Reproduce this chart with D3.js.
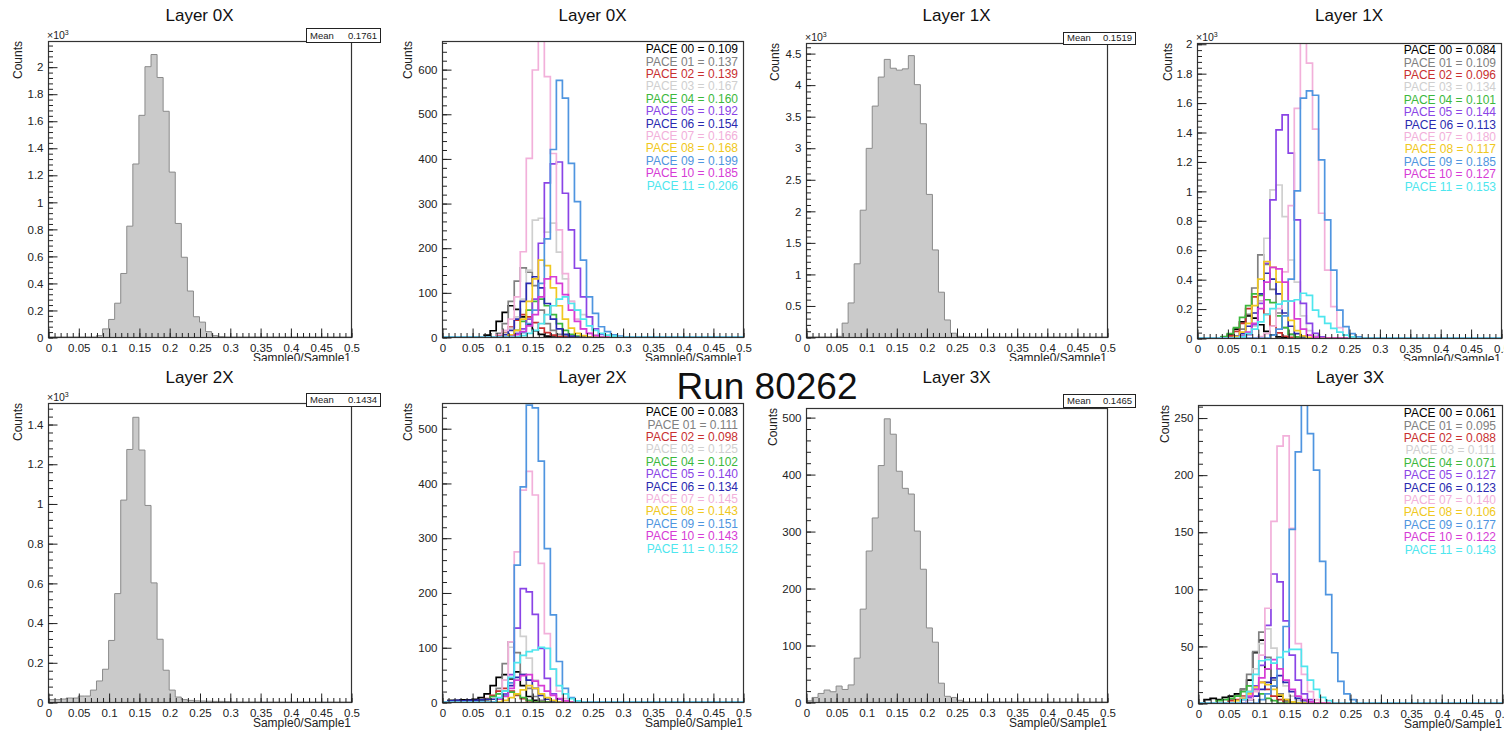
<!DOCTYPE html>
<html><head><meta charset="utf-8">
<script src="https://cdn.jsdelivr.net/npm/d3@7"></script>
<style>
body{margin:0;background:#fff}
svg{display:block}
text{font-family:"Liberation Sans",Arial,Helvetica,sans-serif}
</style>
</head><body>
<svg id="c" width="1504" height="731"></svg>
<script>
// ---------------- DATA ----------------
// Histograms: counts per bin of width 0.01 starting at 0 (bins not listed are empty)
const xTickValues = [0,0.05,0.1,0.15,0.2,0.25,0.3,0.35,0.4,0.45,0.5];
const xTickLabels = ["0","0.05","0.1","0.15","0.2","0.25","0.3","0.35","0.4","0.45","0.5"];

const paceNames = ["PACE 00","PACE 01","PACE 02","PACE 03","PACE 04","PACE 05","PACE 06","PACE 07","PACE 08","PACE 09","PACE 10","PACE 11"];
const paceColors = ["#000000","#808080","#c83030","#cfcfcf","#3cb83c","#8a44e6","#2a2ab0","#f2b0da","#f0c820","#4f95e0","#d63cd6","#4ee6ee"];

const layerTitles = ["Layer 0X","Layer 1X","Layer 2X","Layer 3X"];
const totalMeans = ["0.1761","0.1519","0.1434","0.1465"];

const layer0Total = [0,0,0,0,0,0,0,0,10,60,130,250,470,820,1280,1640,2000,2090,1920,1670,1220,840,590,340,150,110,40,10,3];
const layer1Total = [0,0,0,0,0,10,220,540,1160,2010,2990,3660,4120,4400,4260,4230,4250,4460,4000,3380,2260,1380,710,270,60,10];
const layer2Total = [12,12,15,20,20,30,30,60,106,165,310,546,1017,1272,1434,1269,990,600,316,160,60,25,12,8,6,5,4,3,3,2];
const layer3Total = [2,8,15,21,18,28,22,30,77,163,265,323,415,497,470,405,375,365,300,233,130,105,33,10,8,3];

const layer0Means = ["0.109","0.137","0.139","0.167","0.160","0.192","0.154","0.166","0.168","0.199","0.185","0.206"];
const layer1Means = ["0.084","0.109","0.096","0.134","0.101","0.144","0.113","0.180","0.117","0.185","0.127","0.153"];
const layer2Means = ["0.083","0.111","0.098","0.125","0.102","0.140","0.134","0.145","0.143","0.151","0.143","0.152"];
const layer3Means = ["0.061","0.095","0.088","0.111","0.071","0.127","0.123","0.140","0.106","0.177","0.122","0.143"];

const layer0Paces = [
 [0,0,0,0,0,0,0,4,14,35,55,70,62,45,28,14,6,2],
 [0,0,0,0,0,0,0,0,0,8,30,80,125,155,145,115,60,30,15,6,2],
 [0,0,0,0,0,0,0,0,0,4,10,22,38,50,45,32,20,10,4,1],
 [0,0,0,0,0,0,0,0,0,0,8,20,45,85,150,262,266,235,255,190,130,80,60,50,45,5],
 [0,0,0,0,0,0,0,0,0,0,0,5,15,35,60,80,85,70,50,30,15,6,2],
 [0,0,0,0,0,0,0,0,0,0,0,3,8,18,40,85,210,345,388,392,322,240,154,90,45,18,6,2],
 [0,0,0,0,0,0,0,0,0,0,5,15,40,80,120,135,110,75,40,18,6,2],
 [0,0,0,0,0,0,0,0,0,5,15,40,90,191,400,598,700,583,411,240,142,80,40,18,8,3],
 [0,0,0,0,0,0,0,0,0,0,0,5,15,40,80,130,172,160,110,70,40,20,8,3],
 [0,0,0,0,0,0,0,0,0,0,0,0,0,10,30,60,120,220,420,575,535,389,303,172,90,53,23,12,5,2],
 [0,0,0,0,0,0,0,0,0,0,0,0,5,12,25,50,90,130,135,120,95,60,35,18,8,3],
 [0,0,0,0,0,0,0,0,0,0,0,0,0,3,8,15,30,50,70,85,90,75,60,40,25,15,8,4,2]
];
const layer1Paces = [
 [0,0,0,0,8,25,60,110,150,135,90,45,20,8,3],
 [0,0,0,0,0,3,15,60,160,340,565,500,330,170,70,25,8],
 [0,0,0,0,0,15,45,100,200,280,250,160,80,35,12,4],
 [0,0,0,0,0,0,0,0,20,80,250,678,1007,1040,825,530,380,150,50,15],
 [0,0,0,0,10,30,70,140,220,300,290,260,240,150,70,25,8],
 [0,0,0,0,0,0,0,8,25,90,236,508,939,1415,1517,1256,803,236,100,32,8],
 [0,0,0,0,0,0,10,30,80,170,300,440,400,300,170,80,30,10],
 [0,0,0,0,0,0,0,0,0,0,10,30,80,200,450,900,1560,2100,1868,1420,848,462,213,70,20,5],
 [0,0,0,0,0,0,10,40,100,220,400,520,480,380,250,120,50,15,5],
 [0,0,0,0,0,0,0,0,0,0,0,0,20,60,150,400,1000,1630,1680,1650,1210,803,462,190,77,30,8],
 [0,0,0,0,0,0,0,15,40,100,200,380,480,470,380,250,130,60,20,6],
 [0,0,0,0,0,0,0,10,30,60,110,160,200,230,250,250,260,304,290,190,145,100,66,40,20,8]
];
const layer2Paces = [
 [0,3,3,4,4,5,8,15,30,45,50,42,55,30,10,3],
 [0,0,0,0,0,0,0,3,10,25,70,110,90,50,25,10,3],
 [0,0,0,0,0,0,3,6,12,20,25,20,12,6,2],
 [0,0,0,0,0,0,0,0,5,15,40,100,135,120,80,40,15,5],
 [0,0,0,0,0,0,2,5,10,15,20,18,14,8,3],
 [0,0,0,0,0,0,0,0,0,5,15,50,135,207,201,160,98,43,15,5],
 [0,2,3,2,3,3,4,5,5,5,12,30,45,50,40,25,12,5],
 [0,0,0,0,0,0,0,0,0,5,40,110,274,387,421,378,253,125,60,20,6],
 [0,0,0,0,0,0,0,0,0,0,3,8,15,22,30,25,15,8,3],
 [0,0,0,0,0,0,0,0,0,5,12,35,250,393,542,537,440,280,159,74,25,8,2],
 [0,0,0,0,0,0,0,0,0,5,10,25,40,48,50,38,30,20,12,6,2],
 [0,0,0,0,0,0,0,0,0,8,20,45,72,85,92,95,100,98,60,30,15,6,2]
];
const layer3Paces = [
 [0,3,4,3,5,6,8,12,20,44,55,30,15,6,2],
 [0,0,0,0,0,3,6,12,25,45,62,40,20,8,3],
 [0,0,0,0,0,2,3,6,10,15,18,12,6,3],
 [0,0,0,0,0,0,0,5,15,30,52,65,48,30,15,6,2],
 [0,0,0,2,3,4,6,10,15,12,8,4,2],
 [0,0,0,0,0,0,0,0,5,15,33,68,113,106,72,42,20,8,3],
 [0,0,0,0,0,0,0,0,3,6,12,18,22,24,18,10,4,2],
 [0,0,0,0,0,0,0,0,3,10,42,83,159,225,234,153,52,25,10,3],
 [0,0,0,0,0,0,2,4,8,14,18,16,12,7,3,1],
 [0,0,0,0,0,0,0,0,0,0,3,8,15,30,67,152,220,262,236,204,124,95,44,19,8,3],
 [0,0,0,0,0,0,0,3,6,12,22,30,38,30,20,12,6,3,1],
 [0,0,0,0,0,0,0,3,10,25,37,38,35,40,45,47,47,32,20,12,5,2]
];

// y-axis tick labels
const yTicksK2 = [0,200,400,600,800,1000,1200,1400,1600,1800,2000];
const yLabelsK2 = ["0","0.2","0.4","0.6","0.8","1","1.2","1.4","1.6","1.8","2"];
const yTicksK45 = [0,500,1000,1500,2000,2500,3000,3500,4000,4500];
const yLabelsK45 = ["0","0.5","1","1.5","2","2.5","3","3.5","4","4.5"];
const yTicksK14 = [0,200,400,600,800,1000,1200,1400];
const yLabelsK14 = ["0","0.2","0.4","0.6","0.8","1","1.2","1.4"];
const yTics600 = [0,100,200,300,400,500,600];
const yLabels600 = ["0","100","200","300","400","500","600"];
const yTics500 = [0,100,200,300,400,500];
const yLabels500 = ["0","100","200","300","400","500"];
const yTics250 = [0,50,100,150,200,250];
const yLabels250 = ["0","50","100","150","200","250"];

// ---------------- LAYOUT ----------------
const panels = [
 {layer:0, kind:"total", data:layer0Total, ymax:2190, yt:yTicksK2, yl:yLabelsK2, minor:40, exp:true,
  f:{x0:48,x1:351,y0:41,y1:337}, countsX:18, box:{x0:306,x1:380,y0:28,y1:42}},
 {layer:0, kind:"pace", series:layer0Paces, means:layer0Means, ymax:663, yt:yTics600, yl:yLabels600, minor:20,
  f:{x0:442,x1:743,y0:41,y1:337}, countsX:408, leg:{x:738,y:49}},
 {layer:1, kind:"total", data:layer1Total, ymax:4660, yt:yTicksK45, yl:yLabelsK45, minor:100, exp:true,
  f:{x0:806,x1:1107,y0:43,y1:337}, countsX:775, box:{x0:1063,x1:1135,y0:32,y1:44}},
 {layer:1, kind:"pace", series:layer1Paces, means:layer1Means, ymax:2005, yt:yTicksK2, yl:yLabelsK2, minor:40, exp:true,
  f:{x0:1197,x1:1501,y0:43,y1:338}, countsX:1168, leg:{x:1496,y:50}},
 {layer:2, kind:"total", data:layer2Total, ymax:1506, yt:yTicksK14, yl:yLabelsK14, minor:40, exp:true,
  f:{x0:48,x1:351,y0:403,y1:702}, countsX:18, box:{x0:306,x1:380,y0:393,y1:406}},
 {layer:2, kind:"pace", series:layer2Paces, means:layer2Means, ymax:546, yt:yTics500, yl:yLabels500, minor:20,
  f:{x0:442,x1:743,y0:403,y1:702}, countsX:408, leg:{x:738,y:412}},
 {layer:3, kind:"total", data:layer3Total, ymax:516, yt:yTics500, yl:yLabels500, minor:20,
  f:{x0:806,x1:1107,y0:408,y1:702}, countsX:773, box:{x0:1063,x1:1135,y0:394,y1:407}},
 {layer:3, kind:"pace", series:layer3Paces, means:layer3Means, ymax:261, yt:yTics250, yl:yLabels250, minor:10,
  f:{x0:1198,x1:1502,y0:405,y1:703}, countsX:1165, leg:{x:1496,y:413}}
];

const FONT = '"Liberation Sans",Arial,Helvetica,sans-serif';
const svg = d3.select("#c");
svg.append("rect").attr("width",1504).attr("height",731).attr("fill","#fff");
const defs = svg.append("defs");
defs.append("clipPath").attr("id","row1clip").append("rect").attr("x",0).attr("y",0).attr("width",1504).attr("height",361);

function binPoints(counts){
  const pts = [[0,0]];
  for (let i=0;i<50;i++) pts.push([i/100, counts[i]||0]);
  pts.push([0.5, counts[49]||0]);
  pts.push([0.5, 0]);
  return pts;
}

panels.forEach((p,pi)=>{
  const f = p.f;
  const x = d3.scaleLinear().domain([0,0.5]).range([f.x0,f.x1]);
  const y = d3.scaleLinear().domain([0,p.ymax]).range([f.y1,f.y0]);
  const g = svg.append("g");
  const cid = "clip"+pi;
  defs.append("clipPath").attr("id",cid).append("rect")
    .attr("x",f.x0).attr("y",f.y0).attr("width",f.x1-f.x0).attr("height",f.y1-f.y0);
  const line = d3.line().x(d=>x(d[0])).y(d=>y(d[1])).curve(d3.curveStepAfter);
  const hg = g.append("g").attr("clip-path",`url(#${cid})`);
  if (p.kind==="total"){
    hg.append("path").attr("d", line(binPoints(p.data)))
      .attr("fill","#cacaca").attr("stroke","#8a8a8a").attr("stroke-width",1);
  } else {
    p.series.forEach((s,si)=>{
      hg.append("path").attr("d", line(binPoints(s)))
        .attr("fill","none").attr("stroke",paceColors[si]).attr("stroke-width",1.7)
        .attr("stroke-linejoin","miter");
    });
  }
  // frame
  g.append("rect").attr("x",f.x0+0.5).attr("y",f.y0+0.5)
    .attr("width",f.x1-f.x0).attr("height",f.y1-f.y0)
    .attr("fill","none").attr("stroke","#333").attr("stroke-width",1.2);
  // x axis
  const xa = g.append("g").attr("transform",`translate(0.5,${f.y1+0.5})`)
    .call(d3.axisBottom(x).tickValues(xTickValues).tickFormat((d,i)=>xTickLabels[i]).tickSize(-9).tickSizeOuter(0).tickPadding(6));
  xa.select(".domain").remove();
  xa.attr("font-size",11.5).attr("font-family",FONT);
  xa.selectAll("line").attr("stroke","#222");
  xa.selectAll("text").attr("fill","#222");
  const xm = g.append("g").attr("transform",`translate(0.5,${f.y1+0.5})`)
    .call(d3.axisBottom(x).tickValues(d3.range(0,51).map(i=>i/100)).tickFormat("").tickSize(-4.5).tickSizeOuter(0));
  xm.select(".domain").remove();
  xm.selectAll("line").attr("stroke","#222");
  // y axis
  const ya = g.append("g").attr("transform",`translate(${f.x0+0.5},0.5)`)
    .call(d3.axisLeft(y).tickValues(p.yt).tickFormat((d,i)=>p.yl[i]).tickSize(-9).tickSizeOuter(0).tickPadding(5));
  ya.select(".domain").remove();
  ya.attr("font-size",11.5).attr("font-family",FONT);
  ya.selectAll("line").attr("stroke","#222");
  ya.selectAll("text").attr("fill","#222");
  const minors = d3.range(0, Math.floor(p.ymax/p.minor)+1).map(i=>i*p.minor);
  const ym = g.append("g").attr("transform",`translate(${f.x0+0.5},0.5)`)
    .call(d3.axisLeft(y).tickValues(minors).tickFormat("").tickSize(-4.5).tickSizeOuter(0));
  ym.select(".domain").remove();
  ym.selectAll("line").attr("stroke","#222");
  // exponent label
  if (p.exp){
    const t = g.append("text").attr("x",f.x0-1).attr("y",f.y0-2).attr("font-size",10.5).attr("fill","#222");
    t.append("tspan").text("×10");
    t.append("tspan").attr("dy",-4).attr("font-size",7).text("3");
  }
  // title
  g.append("text").attr("x",(f.x0+f.x1)/2).attr("y", f.y1>400 ? 383 : 21)
    .attr("text-anchor","middle").attr("font-size",17).attr("fill","#111").text(layerTitles[p.layer]);
  // axis titles
  g.append("text").attr("transform",`translate(${p.countsX+4},${f.y0}) rotate(-90)`)
    .attr("text-anchor","end").attr("font-size",12).attr("fill","#222").text("Counts");
  const xt = g.append("text").attr("x",f.x1).attr("y",f.y1+25)
    .attr("text-anchor","end").attr("font-size",12).attr("fill","#222").text("Sample0/Sample1");
  if (f.y1<400) xt.attr("clip-path","url(#row1clip)");
  // stats box
  if (p.box){
    const b = p.box;
    g.append("rect").attr("x",b.x0+0.5).attr("y",b.y0+0.5).attr("width",b.x1-b.x0).attr("height",b.y1-b.y0)
      .attr("fill","#fff").attr("stroke","#222").attr("stroke-width",1);
    g.append("text").attr("x",b.x0+4).attr("y",b.y1-3.5).attr("font-size",9.5).attr("fill","#222").text("Mean");
    g.append("text").attr("x",b.x1-3).attr("y",b.y1-3.5).attr("text-anchor","end").attr("font-size",9.5).attr("fill","#222").text(totalMeans[p.layer]);
  }
  // legend
  if (p.leg){
    paceNames.forEach((n,i)=>{
      g.append("text").attr("x",p.leg.x).attr("y",p.leg.y + i*12.4).attr("dy","0.35em")
        .attr("text-anchor","end").attr("font-size",12).attr("fill",paceColors[i])
        .text(`${n} = ${p.means[i]}`);
    });
  }
});

// overall title
svg.append("text").attr("x",767).attr("y",399).attr("text-anchor","middle")
  .attr("font-size",37).attr("fill","#111").text("Run 80262");
</script>
</body></html>
